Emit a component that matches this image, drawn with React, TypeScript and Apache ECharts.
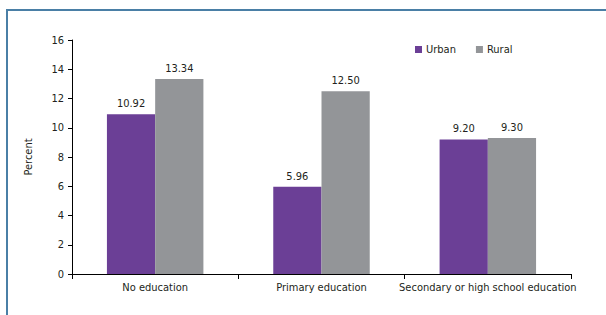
import React, { useEffect, useRef } from "react";
import * as echarts from "echarts";

const categories = ["No education", "Primary education", "Secondary or high school education"];
const urban = [10.92, 5.96, 9.2];
const rural = [13.34, 12.5, 9.3];
const seriesNames = ["Urban", "Rural"];

const FONT = "'Liberation Sans Narrow', 'DejaVu Sans Condensed', Roboto, sans-serif";
const TXT = "#231f20";

export default function App() {
  const ref = useRef<HTMLDivElement>(null);
  useEffect(() => {
    if (!ref.current) return;
    const chart = echarts.init(ref.current, null, { renderer: "svg" });
    const label = {
      show: true,
      position: "top" as const,
      distance: 5,
      fontSize: 11,
      fontFamily: FONT,
      color: TXT,
      formatter: (p: any) => Number(p.value).toFixed(2),
    };
    chart.setOption({
      animation: false,
      textStyle: { fontFamily: FONT, color: TXT },
      graphic: [
        {
          type: "rect",
          shape: { x: 7, y: 10, width: 700, height: 400 },
          style: { fill: "none", stroke: "#4a7fa6", lineWidth: 2 },
          silent: true,
        },
      ],
      legend: {
        data: seriesNames,
        left: 410,
        top: 39,
        itemWidth: 7,
        itemHeight: 7,
        itemGap: 20,
        icon: "rect",
        textStyle: { fontSize: 11, fontFamily: FONT, color: TXT, padding: [0, 0, 0, -1] },
      },
      grid: { left: 72, right: 35, top: 40, bottom: 41, containLabel: false },
      xAxis: {
        type: "category",
        data: categories,
        axisLine: { lineStyle: { color: "#000", width: 1 } },
        axisTick: { show: true, length: 5, lineStyle: { color: "#000" } },
        axisLabel: { fontSize: 11, fontFamily: FONT, color: TXT, margin: 8, interval: 0, hideOverlap: false },
      },
      yAxis: {
        type: "value",
        min: 0,
        max: 16,
        interval: 2,
        name: "Percent",
        nameLocation: "middle",
        nameGap: 38,
        nameRotate: 90,
        nameTextStyle: { fontSize: 11, fontFamily: FONT, color: TXT },
        splitLine: { show: false },
        axisLine: { show: true, lineStyle: { color: "#000", width: 1 } },
        axisTick: { show: true, length: 4, lineStyle: { color: "#000" } },
        axisLabel: { fontSize: 11, fontFamily: FONT, color: TXT, margin: 8 },
      },
      series: [
        {
          name: seriesNames[0],
          type: "bar",
          data: urban,
          barGap: "0%",
          barCategoryGap: "42%",
          itemStyle: { color: "#6b3f96" },
          label,
        },
        {
          name: seriesNames[1],
          type: "bar",
          data: rural,
          itemStyle: { color: "#939598" },
          label,
        },
      ],
    });
    return () => chart.dispose();
  }, []);
  return (
    <div style={{ position: "absolute", left: 0, top: 0, width: 606, height: 315, background: "#fff" }}>
      <div ref={ref} style={{ width: 606, height: 315 }} />
    </div>
  );
}
